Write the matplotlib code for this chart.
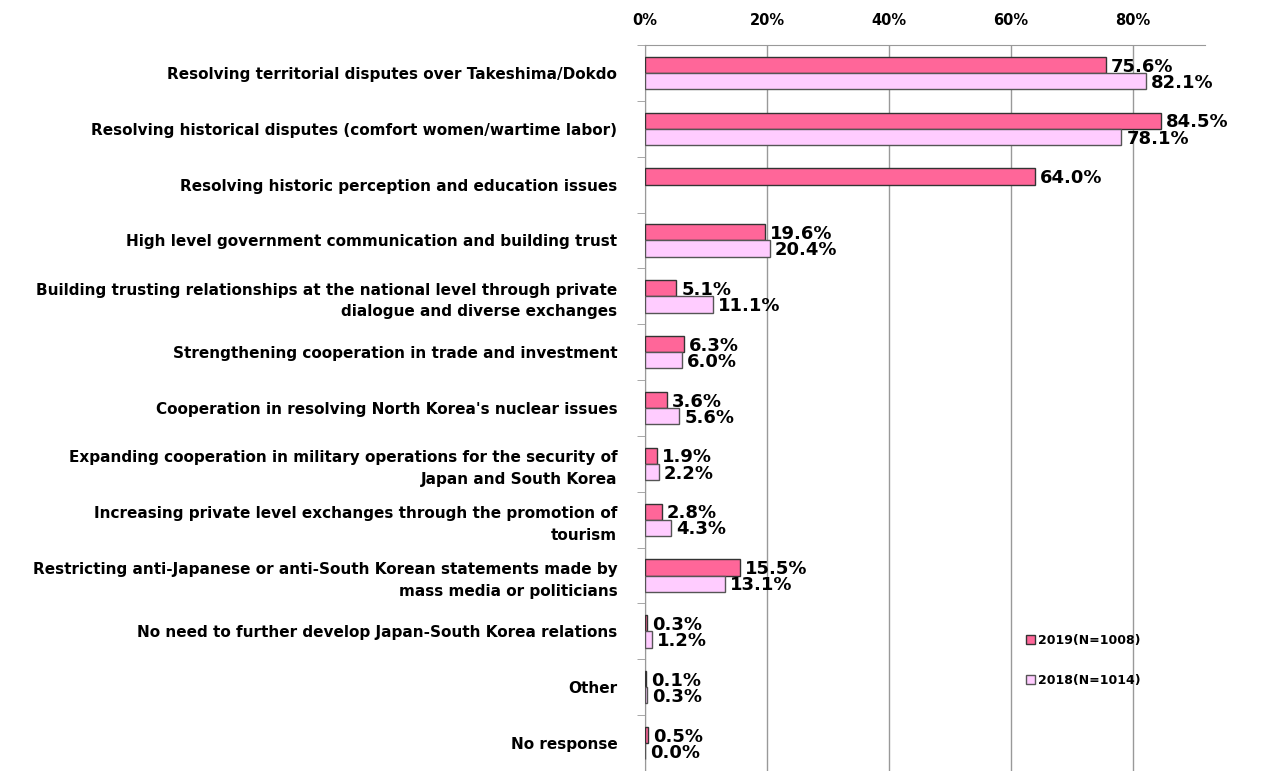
import numpy as np
import matplotlib
matplotlib.use("Agg")
import matplotlib.pyplot as plt

categories = [
    "Resolving territorial disputes over Takeshima/Dokdo",
    "Resolving historical disputes (comfort women/wartime labor)",
    "Resolving historic perception and education issues",
    "High level government communication and building trust",
    "Building trusting relationships at the national level through private\ndialogue and diverse exchanges",
    "Strengthening cooperation in trade and investment",
    "Cooperation in resolving North Korea's nuclear issues",
    "Expanding cooperation in military operations for the security of\nJapan and South Korea",
    "Increasing private level exchanges through the promotion of\ntourism",
    "Restricting anti-Japanese or anti-South Korean statements made by\nmass media or politicians",
    "No need to further develop Japan-South Korea relations",
    "Other",
    "No response",
]
vals_2019 = [75.6, 84.5, 64.0, 19.6, 5.1, 6.3, 3.6, 1.9, 2.8, 15.5, 0.3, 0.1, 0.5]
vals_2018 = [82.1, 78.1, None, 20.4, 11.1, 6.0, 5.6, 2.2, 4.3, 13.1, 1.2, 0.3, 0.0]
series_names = ["2019(N=1008)", "2018(N=1014)"]

fig = plt.figure(figsize=(12.65, 7.71), dpi=100)
ax = fig.add_axes([0.51, 0.0, 0.4426, 0.9416])

n = len(categories)
y = np.arange(n)
h = 0.29

c19 = "#FF6699"
c18 = "#FFCCFF"

v18 = [np.nan if v is None else v for v in vals_2018]
ax.barh(y - h / 2, vals_2019, height=h, color=c19, edgecolor="#333333", linewidth=1, label=series_names[0], zorder=3)
ax.barh(y + h / 2, v18, height=h, color=c18, edgecolor="#555555", linewidth=1, label=series_names[1], zorder=3)

lab_font = dict(fontsize=13, fontweight="bold", color="black", family="DejaVu Sans")
for i in range(n):
    ax.text(vals_2019[i] + 0.8, y[i] - h / 2 + 0.03, f"{vals_2019[i]:.1f}%", va="center", ha="left", **lab_font, zorder=4)
    if vals_2018[i] is not None:
        ax.text(vals_2018[i] + 0.8, y[i] + h / 2 + 0.03, f"{vals_2018[i]:.1f}%", va="center", ha="left", **lab_font, zorder=4)

ax.set_xlim(0, 91.8)
ax.set_ylim(n - 0.5, -0.5)
ax.set_xticks([0, 20, 40, 60, 80])
ax.set_xticklabels(["0%", "20%", "40%", "60%", "80%"], fontsize=10.5, fontweight="bold")
ax.xaxis.tick_top()
ax.tick_params(axis="x", length=0, pad=12)
ax.grid(axis="x", color="#999999", linewidth=1, zorder=0)

ax.set_yticks(y)
ax.set_yticklabels(categories, fontsize=11, fontweight="bold", linespacing=1.55)
ax.set_yticks(np.arange(n + 1) - 0.5, minor=True)
ax.tick_params(axis="y", which="major", length=0, pad=20)
ax.tick_params(axis="y", which="minor", length=6, color="#999999", direction="out")

for s in ["right", "bottom"]:
    ax.spines[s].set_visible(False)
ax.spines["top"].set_color("#999999")
ax.spines["left"].set_color("#999999")

leg = ax.legend(loc="lower left", bbox_to_anchor=(0.66, 0.1), frameon=False,
                prop=dict(size=9, weight="bold"), handlelength=0.7, handleheight=0.7,
                labelspacing=2.2, handletextpad=0.3)

fig.savefig("out.png", dpi=100)
